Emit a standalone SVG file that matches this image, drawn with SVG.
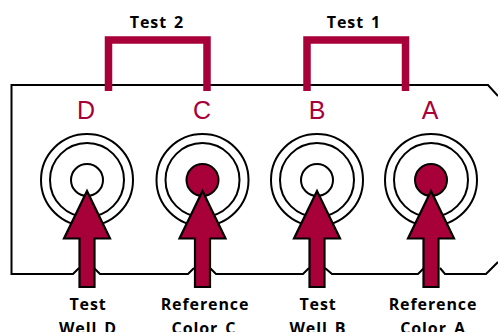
<svg xmlns="http://www.w3.org/2000/svg" width="498" height="332" viewBox="0 0 498 332">
<style>
.o{fill:none;stroke:#000;stroke-width:2}
.b{fill:none;stroke:#a80038;stroke-width:7.500;stroke-linecap:butt;stroke-linejoin:miter}
.a{fill:#a80038;stroke:#000;stroke-width:2.200;stroke-linejoin:miter}
.r{fill:#fff;stroke:#000;stroke-width:2}
.w{fill:#fff;stroke:#000;stroke-width:2}
.f{fill:#a80038;stroke:#000;stroke-width:2}
.l{font-family:"Liberation Sans",Arial,sans-serif;font-size:25px;fill:#a80038;text-anchor:middle}
.t{font-family:"Open Sans","Noto Sans",sans-serif;font-weight:700;font-size:16px;fill:#000;text-anchor:middle;letter-spacing:.9px;word-spacing:2px}
</style>
<defs>
<g id="rings"><circle class="r" r="46"/><circle class="r" r="37"/></g>
<path id="arrow" class="a" d="M0 0L23 47.500H7.500V96H-7.500V47.500H-23Z"/>
</defs>
<g id="panel"><path class="o" d="M498 96L488 85H11.500V274H73L79 268M94 268L100 274H188L194 268M210 268L216 274H303L309 268M325 268L332 274H418L424 268M440 268L445 274H486L498 262"/></g>
<g id="connectors">
<path class="b" d="M108.500 91V40H207V91"/>
<path class="b" d="M307 91V40H405.500V91"/>
</g>
<g id="well-d"><use href="#rings" x="87" y="180"/><circle class="w" cx="87" cy="180" r="16"/><use href="#arrow" x="87" y="191"/><text class="l" x="86" y="119">D</text><text class="t" x="88" y="310">Test</text><text class="t" x="88" y="334">Well D</text></g>
<g id="color-c"><use href="#rings" x="202.500" y="180"/><circle class="f" cx="202.500" cy="180" r="16"/><use href="#arrow" x="202.500" y="191"/><text class="l" x="202" y="119">C</text><text class="t" x="205" y="310">Reference</text><text class="t" x="204" y="334">Color C</text></g>
<g id="well-b"><use href="#rings" x="317" y="180"/><circle class="w" cx="317" cy="180" r="16"/><use href="#arrow" x="317" y="191"/><text class="l" x="317" y="119">B</text><text class="t" x="318" y="310">Test</text><text class="t" x="318" y="334">Well B</text></g>
<g id="color-a"><use href="#rings" x="431" y="180"/><circle class="f" cx="431" cy="180" r="16"/><use href="#arrow" x="431" y="191"/><text class="l" x="430" y="119">A</text><text class="t" x="433" y="310">Reference</text><text class="t" x="433" y="334">Color A</text></g>
<text class="t" x="157" y="28">Test 2</text>
<text class="t" x="354" y="28">Test 1</text>
</svg>
